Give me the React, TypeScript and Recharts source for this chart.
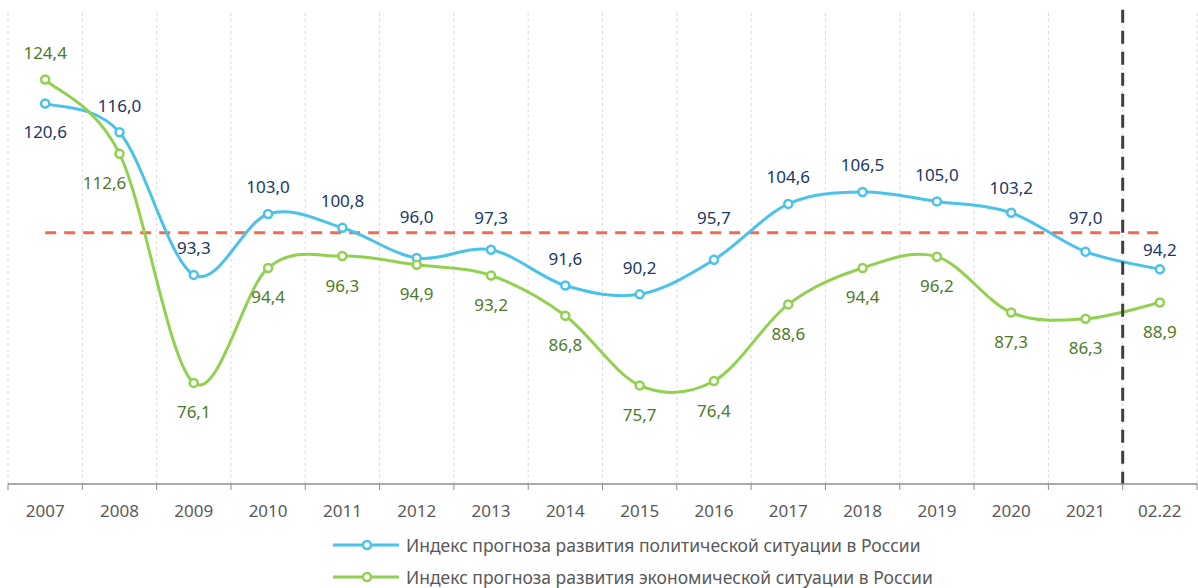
import React from 'react';
import {
  ComposedChart, Line, XAxis, YAxis, CartesianGrid, ReferenceLine, LabelList, Legend,
} from 'recharts';

const categories = ['2007', '2008', '2009', '2010', '2011', '2012', '2013', '2014', '2015', '2016', '2017', '2018', '2019', '2020', '2021', '02.22'];
const political = [120.6, 116.0, 93.3, 103.0, 100.8, 96.0, 97.3, 91.6, 90.2, 95.7, 104.6, 106.5, 105.0, 103.2, 97.0, 94.2];
const economic = [124.4, 112.6, 76.1, 94.4, 96.3, 94.9, 93.2, 86.8, 75.7, 76.4, 88.6, 94.4, 96.2, 87.3, 86.3, 88.9];
const politicalName = 'Индекс прогноза развития политической ситуации в России';
const economicName = 'Индекс прогноза развития экономической ситуации в России';
const baseline = 100;

const BLUE = '#4BC2EA';
const NAVY = '#203864';
const GREEN = '#92D050';
const DARK_GREEN = '#4E7A27';
const FONT = '"Noto Sans", sans-serif';

// one slot per category on a numeric axis: centres at i + 0.5, boundaries at integers
const data = categories.map((label, i) => ({
  idx: i + 0.5,
  label,
  political: political[i],
  economic: economic[i],
}));
const boundaries = categories.map((_, i) => i).concat(categories.length);
const axisTicks = boundaries.flatMap((b) => (b < categories.length ? [b, b + 0.5] : [b]));

// Excel-style smoothed line (Catmull-Rom through the points)
const excelCurve = (context: any) => {
  let pts: number[][] = [];
  return {
    areaStart() {},
    areaEnd() {},
    lineStart() { pts = []; },
    point(x: number, y: number) { pts.push([+x, +y]); },
    lineEnd() {
      if (!pts.length) return;
      context.moveTo(pts[0][0], pts[0][1]);
      for (let i = 0; i < pts.length - 1; i++) {
        const p0 = pts[Math.max(i - 1, 0)];
        const p1 = pts[i];
        const p2 = pts[i + 1];
        const p3 = pts[Math.min(i + 2, pts.length - 1)];
        context.bezierCurveTo(
          p1[0] + (p2[0] - p0[0]) / 6, p1[1] + (p2[1] - p0[1]) / 6,
          p2[0] - (p3[0] - p1[0]) / 6, p2[1] - (p3[1] - p1[1]) / 6,
          p2[0], p2[1],
        );
      }
    },
  };
};

const fmt = (v: number) => v.toFixed(1).replace('.', ',');

// labels nudged by hand in the original so they clear the 100 line
const politicalNudge: Record<number, number> = { 0: 28, 5: -41, 6: -32, 9: -42, 13: -25, 14: -34, 15: -20 };

const AxisTick = ({ x, y, payload }: any) => {
  const v = payload.value;
  if (Number.isInteger(v)) {
    return <line x1={x} x2={x} y1={y} y2={y + 6} stroke="#8C8C8C" strokeWidth={1} />;
  }
  return (
    <text x={x} y={y + 26} textAnchor="middle" dominantBaseline="central"
      fill="#595959" fontSize={17} fontFamily={FONT}>
      {categories[Math.floor(v)]}
    </text>
  );
};

const makeLabel = (color: string, dyFor: (i: number) => number, dxFor: (i: number) => number) =>
  (props: any) => {
    const { x, y, value, index } = props;
    return (
      <text x={x + dxFor(index)} y={y + dyFor(index)} textAnchor="middle"
        dominantBaseline="central" fill={color} fontSize={17} fontFamily={FONT}>
        {fmt(value)}
      </text>
    );
  };

const LegendSample = ({ color }: { color: string }) => (
  <svg width={66} height={12} style={{ display: 'block', marginRight: 7 }}>
    <line x1={0} x2={66} y1={6} y2={6} stroke={color} strokeWidth={3} />
    <circle cx={34} cy={6} r={4} fill="#fff" stroke={color} strokeWidth={2.5} />
  </svg>
);

const LegendContent = () => (
  <div style={{ paddingLeft: 333, paddingTop: 5, fontFamily: FONT, fontSize: 17.5, color: '#595959' }}>
    {[[BLUE, politicalName], [GREEN, economicName]].map(([c, n]) => (
      <div key={n} style={{ display: 'flex', alignItems: 'center', height: 32, whiteSpace: 'nowrap' }}>
        <LegendSample color={c} />
        <span>{n}</span>
      </div>
    ))}
  </div>
);

export default function App() {
  return (
    <div style={{ position: 'absolute', left: 0, top: 0, width: 1198, height: 588, background: '#fff' }}>
      <ComposedChart width={1198} height={588} data={data}
        margin={{ top: 13, right: 1, left: 8, bottom: 0 }}>
        <CartesianGrid horizontal={false} verticalValues={boundaries}
          stroke="#D9D9D9" strokeDasharray="3 3" />
        <XAxis dataKey="idx" type="number" domain={[0, categories.length]} ticks={axisTicks}
          interval={0} height={40} tickSize={0} tickMargin={0} tickLine={false}
          axisLine={{ stroke: '#8C8C8C', strokeWidth: 1.5 }} tick={<AxisTick />} />
        <YAxis hide domain={[60, 135]} allowDataOverflow />
        <ReferenceLine segment={[{ x: 0.5, y: baseline }, { x: categories.length - 0.5, y: baseline }]}
          stroke="#F26B4E" strokeWidth={3} strokeDasharray="11 8" />
        <Line dataKey="political" type={excelCurve as any} stroke={BLUE} strokeWidth={3}
          dot={{ r: 4, fill: '#fff', stroke: BLUE, strokeWidth: 2.5 }} activeDot={false}
          isAnimationActive={false}>
          <LabelList dataKey="political"
            content={makeLabel(NAVY, (i) => politicalNudge[i] ?? -27, () => 0)} />
        </Line>
        <Line dataKey="economic" type={excelCurve as any} stroke={GREEN} strokeWidth={3}
          dot={{ r: 4, fill: '#fff', stroke: GREEN, strokeWidth: 2.5 }} activeDot={false}
          isAnimationActive={false}>
          <LabelList dataKey="economic"
            content={makeLabel(DARK_GREEN, (i) => (i === 0 ? -27 : 29), (i) => (i === 1 ? -15 : 0))} />
        </Line>
        <ReferenceLine ifOverflow="visible"
          segment={[{ x: categories.length - 1, y: 135.5 }, { x: categories.length - 1, y: 60 }]}
          stroke="#3F3F3F" strokeWidth={3} strokeDasharray="13 8" />
        <Legend verticalAlign="bottom" height={64} content={<LegendContent />}
          wrapperStyle={{ left: 0, width: 1198 }} />
      </ComposedChart>
    </div>
  );
}
